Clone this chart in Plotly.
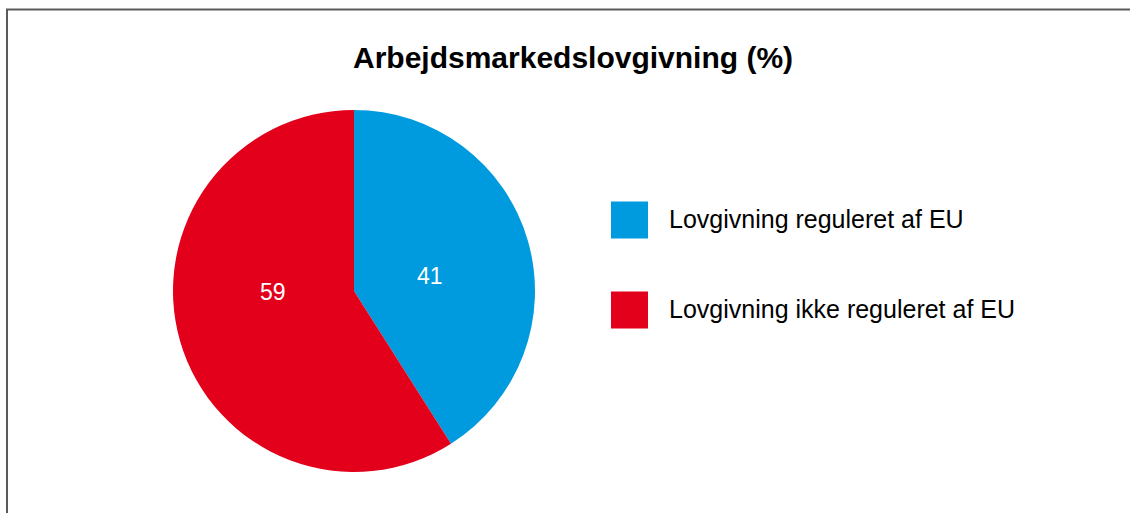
import plotly.graph_objects as go

W, H = 1130, 513

title = "Arbejdsmarkedslovgivning (%)"
labels = ["Lovgivning reguleret af EU", "Lovgivning ikke reguleret af EU"]
values = [41, 59]
colors = ["#009BDE", "#E2001A"]

FONT = "Liberation Sans, Arial, sans-serif"

def px(x):
    return x / W

def py(y):
    return 1 - y / H

fig = go.Figure()
fig.add_trace(go.Pie(
    labels=labels,
    values=values,
    marker=dict(colors=colors, line=dict(width=0)),
    sort=False,
    direction="clockwise",
    rotation=0,
    textinfo="none",
    domain=dict(x=[px(173), px(535)], y=[py(472), py(110)]),
    showlegend=False,
    hoverinfo="label+value",
))

# slice value labels (text from values), placed like the reference
label_pos = [(430, 276), (273, 292)]

shapes = [
    dict(type="rect", xref="paper", yref="paper",
         x0=px(7), x1=px(1140), y0=py(530), y1=py(9.5),
         line=dict(color="#5a5a5a", width=2), fillcolor="rgba(0,0,0,0)", layer="below"),
]
annotations = [
    dict(text="<b>" + title + "</b>", x=px(573), y=py(57), xref="paper", yref="paper",
         showarrow=False, xanchor="center", yanchor="middle",
         font=dict(size=30, color="black", family=FONT)),
]
for v, (lx, ly) in zip(values, label_pos):
    annotations.append(dict(text=str(v), x=px(lx), y=py(ly), xref="paper", yref="paper",
                            showarrow=False, xanchor="center", yanchor="middle",
                            font=dict(size=23, color="white", family=FONT)))
leg_y = [220, 310]
for lab, col, yc in zip(labels, colors, leg_y):
    shapes.append(dict(type="rect", xref="paper", yref="paper",
                       x0=px(611), x1=px(648), y0=py(yc + 18.5), y1=py(yc - 18.5),
                       fillcolor=col, line=dict(width=0)))
    annotations.append(dict(text=lab, x=px(667), y=py(yc - 1), xref="paper", yref="paper",
                            showarrow=False, xanchor="left", yanchor="middle",
                            font=dict(size=25, color="black", family=FONT)))

fig.update_layout(
    width=W, height=H,
    margin=dict(l=0, r=0, t=0, b=0),
    paper_bgcolor="white",
    plot_bgcolor="white",
    shapes=shapes,
    annotations=annotations,
)

fig.write_html("out.html", config={"displayModeBar": False},
               post_script="document.body.style.margin='0px';document.body.style.overflow='hidden';")
